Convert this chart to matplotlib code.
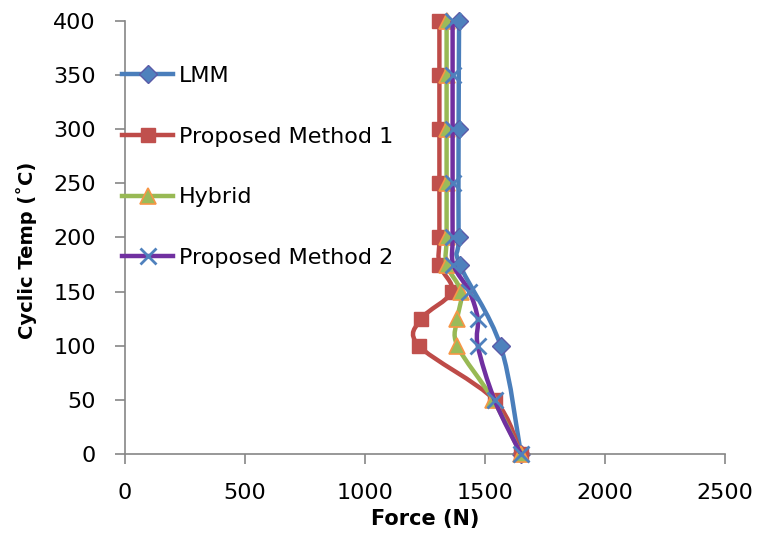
import numpy as np
import matplotlib
matplotlib.use("Agg")
import matplotlib.pyplot as plt
from matplotlib.path import Path
from matplotlib.patches import PathPatch
from matplotlib.lines import Line2D

# data (force in N, temperature in C)
temp_lmm = [0, 100, 175, 200, 300, 400]
force_lmm = [1650, 1565, 1395, 1390, 1390, 1392]

temp_all = [0, 50, 100, 125, 150, 175, 200, 250, 300, 350, 400]
force_pm1 = [1650, 1540, 1225, 1235, 1362, 1310, 1310, 1310, 1310, 1310, 1310]
force_hybrid = [1650, 1535, 1385, 1385, 1400, 1340, 1340, 1340, 1340, 1340, 1340]
force_pm2 = [1650, 1540, 1470, 1470, 1435, 1368, 1365, 1365, 1365, 1365, 1365]

x_ticks = [0, 500, 1000, 1500, 2000, 2500]
y_ticks = [0, 50, 100, 150, 200, 250, 300, 350, 400]


def smooth_path(x, y):
    '''Bezier path through the points, like Excel's smoothed line.'''
    pts = np.column_stack([x, y]).astype(float)
    n = len(pts)
    verts = [pts[0]]
    codes = [Path.MOVETO]
    for i in range(n - 1):
        p0 = pts[max(i - 1, 0)]
        p1 = pts[i]
        p2 = pts[i + 1]
        p3 = pts[min(i + 2, n - 1)]
        verts += [p1 + (p2 - p0) / 6, p2 - (p3 - p1) / 6, p2]
        codes += [Path.CURVE4] * 3
    return Path(verts, codes)


series = [
    ("LMM", force_lmm, temp_lmm, "#4A7EBB",
     dict(marker="D", markersize=9, markerfacecolor="#4F81BD", markeredgecolor="#5B5BA8", markeredgewidth=1)),
    ("Proposed Method 1", force_pm1, temp_all, "#BE4B48",
     dict(marker="s", markersize=10, markerfacecolor="#C0504D", markeredgecolor="#C0504D", markeredgewidth=1)),
    ("Hybrid", force_hybrid, temp_all, "#98B954",
     dict(marker="^", markersize=12, markerfacecolor="#9BBB59", markeredgecolor="#F79646", markeredgewidth=1.2)),
    ("Proposed Method 2", force_pm2, temp_all, "#7030A0",
     dict(marker="x", markersize=12, markeredgecolor="#4F81BD", markeredgewidth=2)),
]

fig = plt.figure(figsize=(7.59, 5.41), dpi=100)
ax = fig.add_axes([125 / 759, 1 - 454.3 / 541, 600 / 759, 433.6 / 541])

handles = []
for k, (name, fx, ty, col, mk) in enumerate(series):
    patch = PathPatch(smooth_path(fx, ty), facecolor="none", edgecolor=col,
                      lw=3.2, capstyle="round", joinstyle="round", zorder=2 + k)
    ax.add_patch(patch)
    ax.plot(fx, ty, linestyle="none", clip_on=False, zorder=2 + k + 0.5, **mk)
    handles.append(Line2D([], [], color=col, lw=3.2, **mk))

ax.set_xlim(0, 2500)
ax.set_ylim(0, 400)
ax.set_xticks(x_ticks)
ax.set_yticks(y_ticks)

for side in ("top", "right"):
    ax.spines[side].set_visible(False)
for side in ("left", "bottom"):
    ax.spines[side].set_color("#868686")
    ax.spines[side].set_linewidth(1.2)
ax.tick_params(axis="both", direction="out", length=7, width=1.2,
               color="#868686", labelsize=16)
ax.tick_params(axis="y", pad=14)
ax.tick_params(axis="x", pad=14)

ax.set_xlabel("Force (N)", fontsize=15, fontweight="bold", labelpad=4)
ax.set_ylabel("Cyclic Temp (˚C)", fontsize=14, fontweight="bold")
ax.yaxis.set_label_coords(-0.147, 0.47)

fig.legend(handles=handles, labels=[s[0] for s in series],
           loc="upper left", bbox_to_anchor=(122 / 759, 1 - 66 / 541),
           frameon=False, fontsize=16, numpoints=1, handlelength=2.3,
           handletextpad=0.25, labelspacing=1.83, borderpad=0, borderaxespad=0)

fig.savefig("out.png", dpi=100)
